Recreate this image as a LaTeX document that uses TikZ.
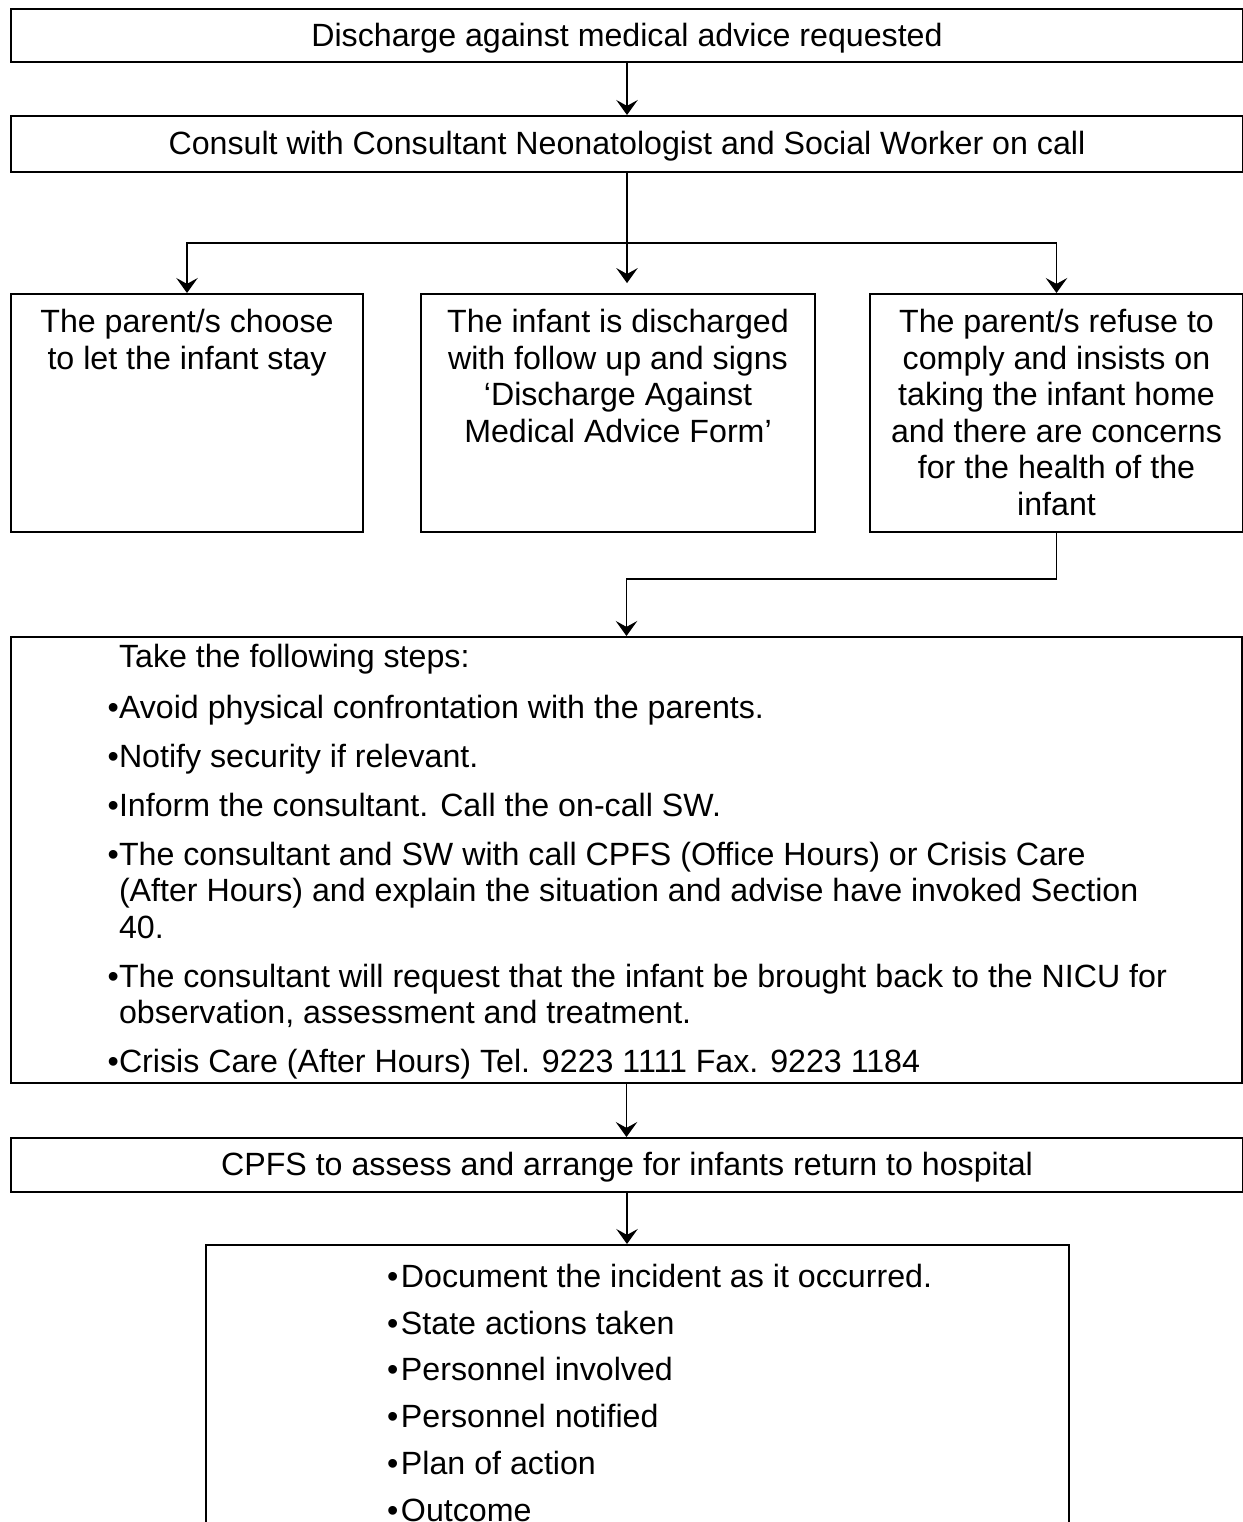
\documentclass[tikz,border=0pt]{standalone}
\usepackage{fontspec}
\setmainfont{Liberation Sans}
\usetikzlibrary{arrows.meta}
\newlength{\px}
\setlength{\px}{0.373pt}
\newcommand{\stepbullet}{\leavevmode\llap{•}}
\newcommand{\recbullet}{\leavevmode\llap{•\hspace{1pt}}}
\tikzset{
	box_base/.style = {
		draw=black,
		line width=0.75pt,
		inner sep=0pt,
		anchor=north west,
		font=\fontsize{12}{13.6}\selectfont
	},
	box_wide/.style = {
		box_base,
		minimum width=1232\px,
		text depth=0.6pt,
		align=center
	},
	box_col/.style = {
		box_base
	},
	link/.style = {
		line width=0.5pt,
		-{Stealth[length=5.6pt,width=8pt,inset=2.2pt]}
	},
}
\begin{document}
\begin{tikzpicture}[x=0.373pt, y=-0.373pt]
\useasboundingbox (0,0) rectangle (1243,1522);
\node [box_wide, minimum height=53\px] (request) at (10,8) {Discharge against medical advice requested};
\node [box_wide, minimum height=56\px] (consult) at (10,115) {Consult with Consultant Neonatologist and Social Worker on call};
% three outcomes
\node [box_col] (stay) at (10,293) {\parbox[t][238\px][t]{352\px}{\centering\vspace*{5pt}\strut The parent/s choose\\to let the infant stay}};
\node [box_col] (leave) at (420,293) {\parbox[t][238\px][t]{394\px}{\centering\vspace*{5pt}\strut The infant is discharged\\with follow up and signs\\‘Discharge Against\\Medical Advice Form’}};
\node [box_col] (refuse) at (869,293) {\parbox[t][238\px][t]{373\px}{\centering\vspace*{5pt}\strut The parent/s refuse to\\comply and insists on\\taking the infant home\\and there are concerns\\for the health of the\\infant}};
% steps
\node [box_col] (steps) at (10,636) {\parbox[t][446\px][t]{1231\px}{\raggedright\leftskip=108\px
	\vspace*{1.7pt}\strut Take the following steps:\\[5.5pt]
	\stepbullet Avoid physical confrontation with the parents.\\[4.7pt]
	\stepbullet Notify security if relevant.\\[4.7pt]
	\stepbullet Inform the consultant. Call the on-call SW.\\[4.7pt]
	\stepbullet The consultant and SW with call CPFS (Office Hours) or Crisis Care\\
	(After Hours) and explain the situation and advise have invoked Section\\
	40.\\[4.7pt]
	\stepbullet The consultant will request that the infant be brought back to the NICU for\\
	observation, assessment and treatment.\\[4.7pt]
	\stepbullet Crisis Care (After Hours) Tel. 9223 1111 Fax. 9223 1184}};
\node [box_wide, minimum height=54\px] (cpfs) at (10,1137) {CPFS to assess and arrange for infants return to hospital};
\node [box_col] (record) at (205,1244) {\parbox[t][330\px][t]{863\px}{\raggedright\leftskip=195\px
	\vspace*{6.2pt}\strut\recbullet Document the incident as it occurred.\\[3.9pt]
	\recbullet State actions taken\\[3.9pt]
	\recbullet Personnel involved\\[3.9pt]
	\recbullet Personnel notified\\[3.9pt]
	\recbullet Plan of action\\[3.9pt]
	\recbullet Outcome}};
% connectors
\coordinate (split) at (consult.south |- 0,243);
\coordinate (merge) at (steps.north |- 0,579);
\draw [link] (request.south) -- (request.south |- consult.north);
\draw [link, shorten >=3.7pt] (consult.south) -- (consult.south |- leave.north);
\draw [link] (split) -| (stay.north);
\draw [link] (split) -| (refuse.north);
\draw [link] (refuse.south) |- (merge) -- (steps.north);
\draw [link] (steps.south) -- (steps.south |- cpfs.north);
\draw [link] (cpfs.south) -- (cpfs.south |- record.north);
\end{tikzpicture}
\end{document}
